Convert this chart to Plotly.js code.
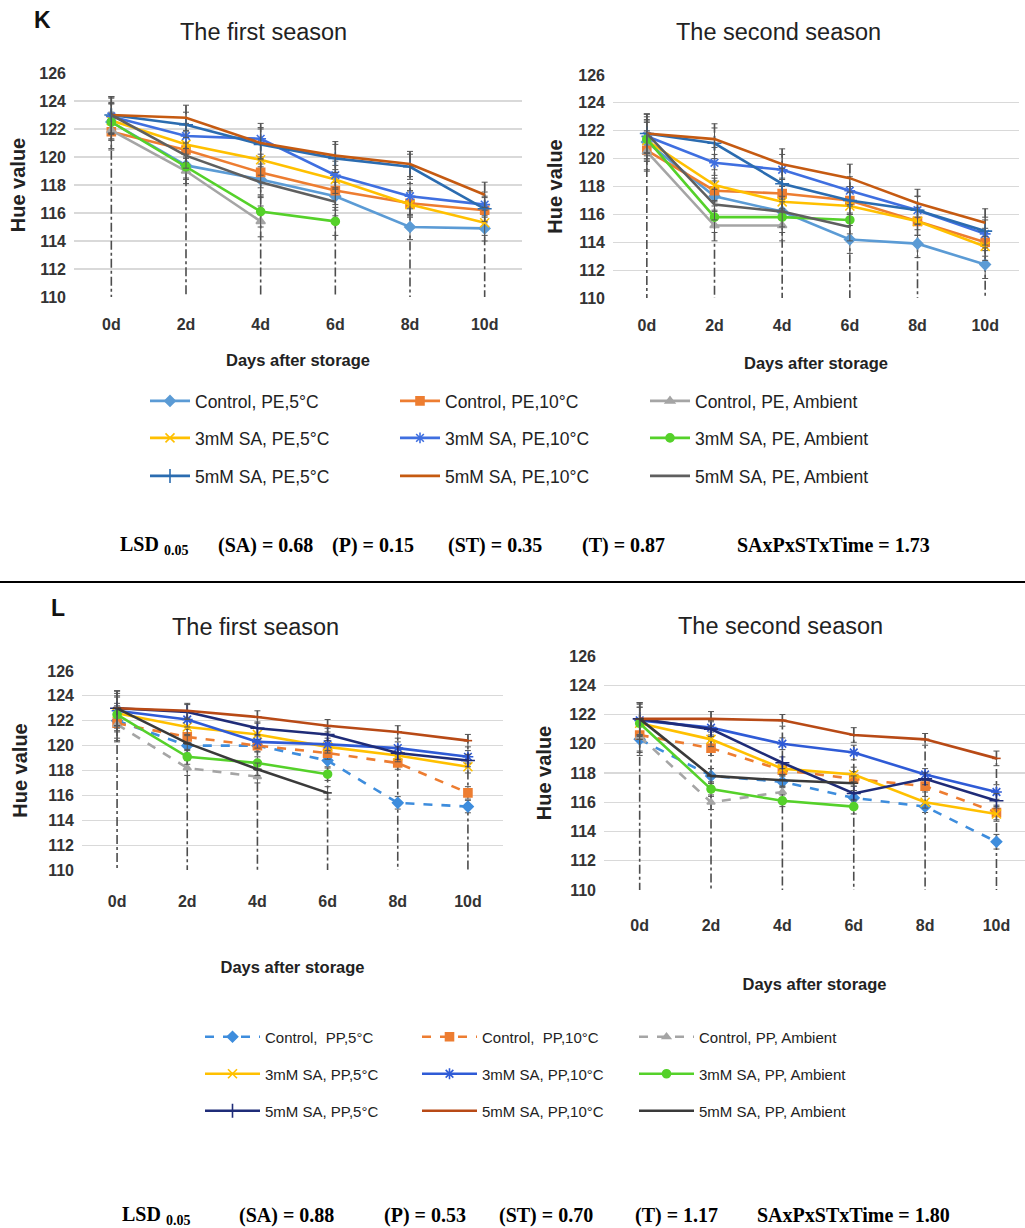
<!DOCTYPE html>
<html>
<head>
<meta charset="utf-8">
<script src="https://cdn.plot.ly/plotly-3.0.1.min.js"></script>
<style>html,body{margin:0;padding:0;background:#fff;}#chart{width:1025px;height:1228px;}</style>
</head>
<body>
<div id="chart"></div>
<script>
// ---------- DATA ----------
const days = ['0d', '2d', '4d', '6d', '8d', '10d'];

const namesPE = ['Control, PE,5°C', 'Control, PE,10°C', 'Control, PE, Ambient',
                 '3mM SA, PE,5°C', '3mM SA, PE,10°C', '3mM SA, PE, Ambient',
                 '5mM SA, PE,5°C', '5mM SA, PE,10°C', '5mM SA, PE, Ambient'];
const namesPP = ['Control,  PP,5°C', 'Control,  PP,10°C', 'Control, PP, Ambient',
                 '3mM SA, PP,5°C', '3mM SA, PP,10°C', '3mM SA, PP, Ambient',
                 '5mM SA, PP,5°C', '5mM SA, PP,10°C', '5mM SA, PP, Ambient'];

// K - first season (PE)
const k1Control5 = [122.5, 119.4, 118.4, 117.2, 115.0, 114.9];
const k1Control10 = [121.8, 120.5, 118.9, 117.6, 116.7, 116.2];
const k1ControlAmb = [121.9, 119.0, 115.4];
const k1Sa3_5 = [122.6, 120.9, 119.8, 118.4, 116.6, 115.3];
const k1Sa3_10 = [122.9, 121.5, 121.3, 118.7, 117.2, 116.6];
const k1Sa3Amb = [122.5, 119.3, 116.1, 115.4];
const k1Sa5_5 = [123.0, 122.3, 120.9, 119.9, 119.3, 116.3];
const k1Sa5_10 = [123.0, 122.8, 121.0, 120.1, 119.5, 117.3];
const k1Sa5Amb = [123.0, 120.1, 118.2, 116.8];
const k1Err = [1.3, 0.9, 1.1, 1.0, 0.9, 0.9];

// K - second season (PE)
const k2Control5 = [121.2, 117.3, 116.2, 114.2, 113.9, 112.4];
const k2Control10 = [120.6, 117.7, 117.5, 117.0, 115.5, 114.0];
const k2ControlAmb = [120.5, 115.2, 115.2];
const k2Sa3_5 = [121.3, 118.1, 116.9, 116.6, 115.5, 113.7];
const k2Sa3_10 = [121.6, 119.7, 119.2, 117.7, 116.3, 114.6];
const k2Sa3Amb = [121.4, 115.8, 115.8, 115.6];
const k2Sa5_5 = [121.8, 121.1, 118.2, 117.0, 116.3, 114.8];
const k2Sa5_10 = [121.8, 121.4, 119.6, 118.6, 116.8, 115.4];
const k2Sa5Amb = [121.8, 116.7, 116.2, 115.1];
const k2Err = [1.4, 1.1, 1.1, 1.0, 1.0, 1.0];

// L - first season (PP)
const l1Control5 = [122.0, 120.0, 120.0, 118.8, 115.4, 115.1];
const l1Control10 = [121.8, 120.7, 120.0, 119.4, 118.6, 116.2];
const l1ControlAmb = [121.7, 118.2, 117.5];
const l1Sa3_5 = [122.6, 121.5, 120.9, 119.9, 119.2, 118.3];
const l1Sa3_10 = [122.8, 122.1, 120.3, 120.1, 119.8, 119.1];
const l1Sa3Amb = [122.5, 119.1, 118.6, 117.7];
const l1Sa5_5 = [123.0, 122.7, 121.4, 120.9, 119.4, 118.8];
const l1Sa5_10 = [123.0, 122.8, 122.3, 121.6, 121.1, 120.4];
const l1Sa5Amb = [123.0, 120.2, 118.1, 116.2];
const l1Err = [1.4, 0.6, 0.5, 0.5, 0.5, 0.5];

// L - second season (PP)
const l2Control5 = [120.3, 117.8, 117.4, 116.3, 115.7, 113.3];
const l2Control10 = [120.6, 119.7, 118.2, 117.6, 117.1, 115.3];
const l2ControlAmb = [120.5, 116.0, 116.7];
const l2Sa3_5 = [121.4, 120.3, 118.3, 117.9, 116.0, 115.2];
const l2Sa3_10 = [121.6, 121.1, 120.0, 119.4, 117.9, 116.7];
const l2Sa3Amb = [121.4, 116.9, 116.1, 115.7];
const l2Sa5_5 = [121.7, 121.0, 118.7, 116.6, 117.6, 116.1];
const l2Sa5_10 = [121.7, 121.7, 121.6, 120.6, 120.3, 119.0];
const l2Sa5Amb = [121.7, 117.8, 117.5, 117.3];
const l2Err = [1.1, 0.5, 0.4, 0.5, 0.4, 0.5];

const yTicks = [110, 112, 114, 116, 118, 120, 122, 124, 126];

const lsdLabels = ['(SA)', '(P)', '(ST)', '(T)', 'SAxPxSTxTime'];
const lsdK = ['0.68', '0.15', '0.35', '0.87', '1.73'];
const lsdL = ['0.88', '0.53', '0.70', '1.17', '1.80'];

// ---------- STYLES ----------
const W = 1025, H = 1228;
const SANS = '"Liberation Sans", Arial, sans-serif';
const SERIF = '"Liberation Serif", "Times New Roman", serif';

const stylePE = [
  {color: '#5B9BD5', symbol: 'diamond', size: 8, mode: 'lines+markers', dash: 'solid'},
  {color: '#ED7D31', symbol: 'square', size: 8, mode: 'lines+markers', dash: 'solid'},
  {color: '#A5A5A5', symbol: 'triangle-up', size: 8, mode: 'lines+markers', dash: 'solid'},
  {color: '#FFC000', symbol: 'x-thin-open', size: 9, mode: 'lines+markers', dash: 'solid'},
  {color: '#3F6FE0', symbol: 'asterisk-open', size: 9, mode: 'lines+markers', dash: 'solid'},
  {color: '#55D12A', symbol: 'circle', size: 8, mode: 'lines+markers', dash: 'solid'},
  {color: '#2B6CB0', symbol: 'cross-thin-open', size: 10, mode: 'lines+markers', dash: 'solid'},
  {color: '#C55A11', symbol: 'circle', size: 1, mode: 'lines', dash: 'solid'},
  {color: '#5F5F5F', symbol: 'circle', size: 1, mode: 'lines', dash: 'solid'}
];
const stylePP = [
  {color: '#3E8DDD', symbol: 'diamond', size: 8, mode: 'lines+markers', dash: 'dash'},
  {color: '#ED7D31', symbol: 'square', size: 8, mode: 'lines+markers', dash: 'dash'},
  {color: '#A5A5A5', symbol: 'triangle-up', size: 7, mode: 'lines+markers', dash: 'dash'},
  {color: '#FFC000', symbol: 'x-thin-open', size: 9, mode: 'lines+markers', dash: 'solid'},
  {color: '#2F5BD6', symbol: 'asterisk-open', size: 9, mode: 'lines+markers', dash: 'solid'},
  {color: '#55D12A', symbol: 'circle', size: 8, mode: 'lines+markers', dash: 'solid'},
  {color: '#1F2C78', symbol: 'cross-thin-open', size: 10, mode: 'lines+markers', dash: 'solid'},
  {color: '#B84A16', symbol: 'line-ew-open', size: 6, mode: 'lines+markers', dash: 'solid'},
  {color: '#3A3A3A', symbol: 'line-ew-open', size: 6, mode: 'lines+markers', dash: 'solid'}
];

const traces = [];

function addPanel(series, err, xa, ya, names, styles, legends) {
  // drop lines (from top of highest error bar down to axis minimum)
  const dx = [], dy = [];
  days.forEach((d, j) => {
    let top = -Infinity;
    series.forEach(s => { if (j < s.length) top = Math.max(top, s[j] + err[j]); });
    dx.push(d, d, null);
    dy.push(top, yTicks[0], null);
  });
  traces.push({type: 'scatter', mode: 'lines', x: dx, y: dy, xaxis: xa, yaxis: ya,
    showlegend: false, hoverinfo: 'skip',
    line: {color: '#4d4d4d', width: 1.6, dash: 'dashdot'}});
  series.forEach((s, i) => {
    const st = styles[i];
    const t = {
      type: 'scatter', mode: st.mode, x: days.slice(0, s.length), y: s,
      xaxis: xa, yaxis: ya, name: names[i],
      line: {color: st.color, width: 2.6, dash: st.dash},
      marker: {symbol: st.symbol, size: st.size, color: st.color, line: {color: st.color, width: 1.6}},
      error_y: {type: 'data', array: err.slice(0, s.length), visible: true, color: '#555', thickness: 1, width: 3}
    };
    if (legends) { t.showlegend = true; t.legend = legends[Math.floor(i / 3)]; }
    else t.showlegend = false;
    traces.push(t);
  });
}

addPanel([k1Control5, k1Control10, k1ControlAmb, k1Sa3_5, k1Sa3_10, k1Sa3Amb, k1Sa5_5, k1Sa5_10, k1Sa5Amb],
  k1Err, 'x', 'y', namesPE, stylePE, ['legend', 'legend2', 'legend3']);
addPanel([k2Control5, k2Control10, k2ControlAmb, k2Sa3_5, k2Sa3_10, k2Sa3Amb, k2Sa5_5, k2Sa5_10, k2Sa5Amb],
  k2Err, 'x2', 'y2', namesPE, stylePE, null);
addPanel([l1Control5, l1Control10, l1ControlAmb, l1Sa3_5, l1Sa3_10, l1Sa3Amb, l1Sa5_5, l1Sa5_10, l1Sa5Amb],
  l1Err, 'x3', 'y3', namesPP, stylePP, ['legend4', 'legend5', 'legend6']);
addPanel([l2Control5, l2Control10, l2ControlAmb, l2Sa3_5, l2Sa3_10, l2Sa3Amb, l2Sa5_5, l2Sa5_10, l2Sa5Amb],
  l2Err, 'x4', 'y4', namesPP, stylePP, null);

// ---------- LAYOUT ----------
const px = v => v / W;
const py = v => 1 - v / H;

function xAxis(anchor, l, r, range, lblStand, titleStand) {
  return {
    anchor: anchor, domain: [px(l), px(r)], type: 'category', categoryarray: days,
    range: range, showgrid: false, zeroline: false, showline: false, ticks: '',
    ticklabelstandoff: lblStand, automargin: false,
    tickfont: {family: SANS, size: 16, weight: 'bold', color: '#333'},
    title: {text: 'Days after storage', standoff: titleStand,
      font: {family: SANS, size: 16.5, weight: 'bold', color: '#222'}}
  };
}
function yAxis(anchor, top, bottom, titleStand) {
  return {
    anchor: anchor, domain: [py(bottom), py(top)], range: [110, 126],
    tickvals: yTicks, ticktext: yTicks.map(String),
    showgrid: true, gridcolor: '#d9d9d9', gridwidth: 1.2, zeroline: false, showline: false, ticks: '',
    ticklabelstandoff: 7, automargin: false,
    tickfont: {family: SANS, size: 16, weight: 'bold', color: '#333'},
    title: {text: 'Hue value', standoff: titleStand,
      font: {family: SANS, size: 20, weight: 'bold', color: '#222'}}
  };
}

function legendCfg(xp, yp, fs, iw, ew) {
  return {
    orientation: 'h', x: px(xp), y: py(yp), xanchor: 'left', yanchor: 'middle',
    font: {family: SANS, size: fs, color: '#222'}, itemwidth: iw,
    entrywidth: ew, entrywidthmode: 'pixels', bgcolor: 'rgba(0,0,0,0)', borderwidth: 0,
    traceorder: 'normal'
  };
}

const annotations = [];
function addText(text, x, y, font, opts) {
  annotations.push(Object.assign({text: text, x: px(x), y: py(y), xref: 'paper', yref: 'paper',
    showarrow: false, font: font, xanchor: 'center', yanchor: 'middle'}, opts || {}));
}
const titleFont = {family: SANS, size: 23.5, color: '#222'};
addText('The first season', 263, 32, titleFont);
addText('The second season', 778, 32, titleFont);
addText('The first season', 255, 627, titleFont);
addText('The second season', 780, 626, titleFont);
addText('K', 42, 20, {family: SANS, size: 23, weight: 'bold', color: '#111'});
addText('L', 58, 608, {family: SANS, size: 23, weight: 'bold', color: '#111'});

const lsdFont = {family: SERIF, size: 20, weight: 'bold', color: '#000'};
const lsdXK = [216, 330, 446, 580, 735];
const lsdXL = [237, 382, 497, 633, 755];
addText('LSD <sub>0.05</sub>', 118, 545, lsdFont, {xanchor: 'left'});
lsdLabels.forEach((lab, i) => addText(lab + ' = ' + lsdK[i], lsdXK[i], 545, lsdFont, {xanchor: 'left'}));
addText('LSD <sub>0.05</sub>', 120, 1215, lsdFont, {xanchor: 'left'});
lsdLabels.forEach((lab, i) => addText(lab + ' = ' + lsdL[i], lsdXL[i], 1215, lsdFont, {xanchor: 'left'}));

const layout = {
  width: W, height: H, margin: {l: 0, r: 0, t: 0, b: 0},
  paper_bgcolor: '#fff', plot_bgcolor: '#fff',
  xaxis: xAxis('y', 74, 522, [-0.5, 5.5], 16, 22),
  yaxis: yAxis('x', 73, 297, 8),
  xaxis2: xAxis('y2', 613, 1019, [-0.5, 5.5], 16, 24),
  yaxis2: yAxis('x2', 75, 298, 10),
  xaxis3: xAxis('y3', 82, 503, [-0.5, 5.5], 20, 52),
  yaxis3: yAxis('x3', 671, 870, 14),
  xaxis4: xAxis('y4', 604, 1025, [-0.5, 5.4], 24, 45),
  yaxis4: yAxis('x4', 656, 890, 12),
  legend: legendCfg(145, 401, 17.5, 40, 195),
  legend2: legendCfg(145, 438, 17.5, 40, 195),
  legend3: legendCfg(145, 476, 17.5, 40, 195),
  legend4: legendCfg(200, 1037, 15, 55, 147),
  legend5: legendCfg(200, 1074, 15, 55, 147),
  legend6: legendCfg(200, 1111, 15, 55, 147),
  annotations: annotations,
  shapes: [{type: 'line', xref: 'paper', yref: 'paper', x0: 0, x1: 1, y0: py(582), y1: py(582),
    line: {color: '#000', width: 2}}],
  showlegend: true
};

Plotly.newPlot('chart', traces, layout, {displayModeBar: false, staticPlot: true});
</script>
</body>
</html>
